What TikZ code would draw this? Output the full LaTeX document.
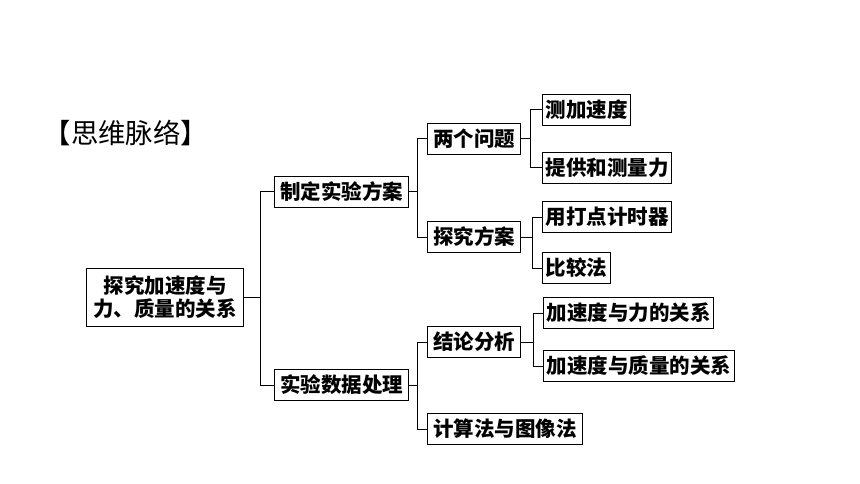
\documentclass[tikz,border=0pt]{standalone}
\usepackage{fontspec}
\newfontfamily\cjk{Noto Sans CJK SC}
\tikzset{
  box/.style={draw,line width=1pt,rectangle,anchor=west,minimum height=31pt,
    inner xsep=5.5pt,inner ysep=0pt,font=\cjk\bfseries\fontsize{20.5}{23.5}\selectfont},
  leaf/.style={box,inner xsep=3pt},
  link/.style={line width=1pt}
}
\begin{document}
\begin{tikzpicture}[x=1pt,y=-1pt]
  \useasboundingbox (0,0) rectangle (860,484);
  \node[anchor=west,inner sep=0pt,font=\cjk\fontsize{27.4}{32}\selectfont] (title) at (43.5,133) {【思维脉络】};
  % root
  \node[box,align=center,minimum width=157pt,minimum height=58pt] (root) at (86,297)
    {探究加速度与\\力、质量的关系};
  % first level
  \node[box] (plan) at (274,192) {制定实验方案};
  \node[box] (data) at (274,385) {实验数据处理};
  % second level
  \node[box] (issue) at (427,139) {两个问题};
  \node[box] (scheme) at (427,237) {探究方案};
  \node[box] (concl) at (427,342) {结论分析};
  \node[box] (calc) at (427,429) {计算法与图像法};
  % leaves
  \node[leaf] (accel) at (542,110) {测加速度};
  \node[leaf] (force) at (542,168) {提供和测量力};
  \node[leaf] (timer) at (542,217) {用打点计时器};
  \node[leaf] (compare) at (542,268) {比较法};
  \node[leaf] (relf) at (543,313) {加速度与力的关系};
  \node[leaf] (relm) at (543,366) {加速度与质量的关系};
  % connectors
  \draw[link] (root.east) -- ++(16pt,0) |- (plan.west);
  \draw[link] (root.east) -- ++(16pt,0) |- (data.west);
  \draw[link] (plan.east) -- ++(8pt,0) |- (issue.west);
  \draw[link] (plan.east) -- ++(8pt,0) |- (scheme.west);
  \draw[link] (data.east) -- ++(8pt,0) |- (concl.west);
  \draw[link] (data.east) -- ++(8pt,0) |- (calc.west);
  \draw[link] (issue.east) -- ++(9pt,0) |- (accel.west);
  \draw[link] (issue.east) -- ++(9pt,0) |- (force.west);
  \draw[link] (scheme.east) -- ++(11pt,0) |- (timer.west);
  \draw[link] (scheme.east) -- ++(11pt,0) |- (compare.west);
  \draw[link] (concl.east) -- ++(12pt,0) |- (relf.west);
  \draw[link] (concl.east) -- ++(12pt,0) |- (relm.west);
\end{tikzpicture}
\end{document}
